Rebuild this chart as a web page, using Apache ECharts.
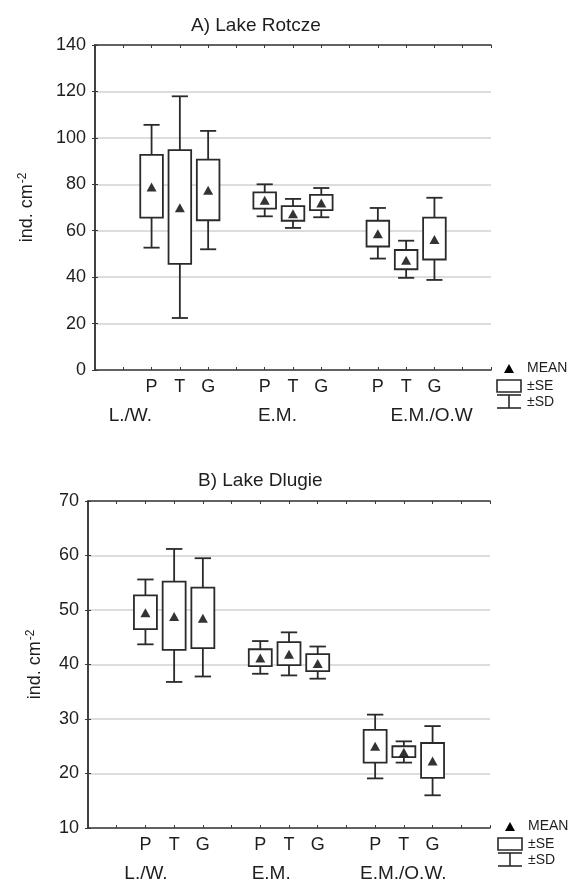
<!DOCTYPE html>
<html>
<head>
    <meta charset="utf-8">
    <title>Lake Rotcze / Lake Dlugie</title>
</head>
<body style="margin:0;background:#fff;">

    <div id="main" style="width: 582px; height: 884px;"></div>
    <script src="https://cdn.jsdelivr.net/npm/echarts@6/dist/echarts.min.js"></script>
    <script type="text/javascript">
        // positions of the boxes on the 0..14 x scale and their labels
        var xPos = [2, 3, 4, 6, 7, 8, 10, 11, 12];
        var tickLabels = ['P', 'T', 'G', 'P', 'T', 'G', 'P', 'T', 'G'];

        // A) Lake Rotcze
        var groupsA = ['L./W.', 'E.M.', 'E.M./O.W'];
        var groupPosA = [1.25, 6.45, 11.9];
        var meanA   = [78.8, 69.9, 77.4, 73.1, 67.3, 71.9, 58.7, 47.3, 56.2];
        var seLowA  = [65.6, 45.7, 64.5, 69.5, 64.3, 68.9, 53.2, 43.4, 47.6];
        var seHighA = [92.7, 94.7, 90.6, 76.5, 70.6, 75.4, 64.3, 51.7, 65.6];
        var sdLowA  = [52.7, 22.4, 52.0, 66.2, 61.2, 65.8, 48.0, 39.7, 38.8];
        var sdHighA = [105.6, 117.9, 103.0, 80.0, 73.7, 78.4, 69.8, 55.7, 74.2];

        // B) Lake Dlugie
        var groupsB = ['L./W.', 'E.M.', 'E.M./O.W.'];
        var groupPosB = [2.02, 6.38, 10.98];
        var meanB   = [49.5, 48.8, 48.5, 41.2, 41.9, 40.2, 25.0, 23.9, 22.3];
        var seLowB  = [46.5, 42.7, 43.0, 39.7, 39.9, 38.8, 22.0, 23.0, 19.2];
        var seHighB = [52.7, 55.2, 54.1, 42.8, 44.1, 41.9, 28.0, 25.0, 25.6];
        var sdLowB  = [43.7, 36.8, 37.8, 38.3, 38.0, 37.4, 19.1, 22.0, 16.0];
        var sdHighB = [55.6, 61.2, 59.5, 44.3, 45.9, 43.3, 30.8, 25.9, 28.7];

        var chartDom = document.getElementById('main');
        var myChart = echarts.init(chartDom);
        var option;

        var FONT = 'Liberation Sans, Arial, sans-serif';
        var INK = '#2a2a2a';

        function labelAt(values, labels) {
            return function (v) {
                for (var i = 0; i < values.length; i++) {
                    if (Math.abs(values[i] - v) < 1e-6) return labels[i];
                }
                return '';
            };
        }

        function boxData(sdLow, seLow, mean, seHigh, sdHigh) {
            return xPos.map(function (x, i) {
                return [x, sdLow[i], seLow[i], mean[i], seHigh[i], sdHigh[i]];
            });
        }

        function renderBox(params, api) {
            var x = api.value(0);
            var lo = api.coord([x, api.value(1)]);
            var seLo = api.coord([x, api.value(2)]);
            var seHi = api.coord([x, api.value(4)]);
            var hi = api.coord([x, api.value(5)]);
            var unit = api.size([1, 0])[0];
            var bw = unit * 0.8;
            var cw = unit * 0.57;
            var st = { stroke: INK, lineWidth: 1.8 };
            return {
                type: 'group',
                children: [
                    { type: 'line', shape: { x1: lo[0], y1: lo[1], x2: hi[0], y2: hi[1] }, style: st },
                    { type: 'line', shape: { x1: lo[0] - cw / 2, y1: lo[1], x2: lo[0] + cw / 2, y2: lo[1] }, style: st },
                    { type: 'line', shape: { x1: hi[0] - cw / 2, y1: hi[1], x2: hi[0] + cw / 2, y2: hi[1] }, style: st },
                    {
                        type: 'rect',
                        shape: { x: seHi[0] - bw / 2, y: seHi[1], width: bw, height: seLo[1] - seHi[1] },
                        style: { fill: '#fff', stroke: INK, lineWidth: 1.8 }
                    }
                ]
            };
        }

        function xAxes(gi, groups, groupPos) {
            var base = {
                gridIndex: gi, type: 'value', min: 0, max: 14, interval: 1,
                axisLine: { onZero: false, lineStyle: { color: '#3a3a3a', width: 1.6 } },
                axisTick: { inside: true, length: 3, lineStyle: { color: '#3a3a3a' } },
                splitLine: { show: false }
            };
            return [
                Object.assign({}, base, {
                    position: 'bottom',
                    axisLabel: {
                        customValues: xPos, formatter: labelAt(xPos, tickLabels),
                        fontFamily: FONT, fontSize: 18, color: '#1e1e1e', margin: 8
                    }
                }),
                Object.assign({}, base, { position: 'top', axisLabel: { show: false } }),
                {
                    gridIndex: gi, type: 'value', min: 0, max: 14, position: 'bottom', offset: 28,
                    axisLine: { show: false }, axisTick: { show: false }, splitLine: { show: false },
                    axisLabel: {
                        customValues: groupPos, formatter: labelAt(groupPos, groups),
                        fontFamily: FONT, fontSize: 19, color: '#1e1e1e', margin: 8
                    }
                }
            ];
        }

        function yAxes(gi, min, max, step, gap) {
            return [
                {
                    gridIndex: gi, type: 'value', min: min, max: max, interval: step, position: 'left',
                    name: 'ind. cm{sup|-2}', nameLocation: 'middle', nameGap: gap,
                    nameTextStyle: {
                        fontFamily: FONT, fontSize: 18, color: '#1e1e1e',
                        rich: { sup: { fontFamily: FONT, fontSize: 12, color: '#1e1e1e', verticalAlign: 'top', padding: [0, 0, 8, 1] } }
                    },
                    axisLine: { show: true, lineStyle: { color: '#3a3a3a', width: 1.6 } },
                    axisTick: { inside: true, length: 3, lineStyle: { color: '#3a3a3a' } },
                    axisLabel: { fontFamily: FONT, fontSize: 18, color: '#1e1e1e', margin: 9 },
                    splitLine: { show: true, lineStyle: { color: '#d2d2d2', width: 1.5 } }
                },
                {
                    gridIndex: gi, type: 'value', min: min, max: max, interval: step, position: 'right',
                    axisLine: { show: true, lineStyle: { color: '#3a3a3a', width: 1.6 } },
                    axisTick: { inside: true, length: 3, lineStyle: { color: '#3a3a3a' } },
                    axisLabel: { show: false }, splitLine: { show: false }
                }
            ];
        }

        function legendKey(x, y) {
            var st = { stroke: INK, lineWidth: 1.6, fill: '#fff' };
            var txt = { fontFamily: FONT, fontSize: 14, fill: '#1e1e1e', textVerticalAlign: 'middle' };
            return {
                type: 'group', x: x, y: y, silent: true,
                children: [
                    { type: 'polygon', shape: { points: [[12, -5], [7, 4], [17, 4]] }, style: { fill: '#000' } },
                    { type: 'text', x: 30, y: -1, style: Object.assign({ text: 'MEAN' }, txt) },
                    { type: 'rect', shape: { x: 0, y: 11, width: 24, height: 12 }, style: st },
                    { type: 'text', x: 30, y: 17, style: Object.assign({ text: '±SE' }, txt) },
                    { type: 'line', shape: { x1: 0, y1: 26, x2: 24, y2: 26 }, style: st },
                    { type: 'line', shape: { x1: 12, y1: 26, x2: 12, y2: 39 }, style: st },
                    { type: 'line', shape: { x1: 0, y1: 39, x2: 24, y2: 39 }, style: st },
                    { type: 'text', x: 30, y: 33, style: Object.assign({ text: '±SD' }, txt) }
                ]
            };
        }

        var titleStyle = { fontFamily: FONT, fontSize: 19, fontWeight: 'normal', color: '#1e1e1e' };

        option = {
            animation: false,
            backgroundColor: '#fff',
            title: [
                { text: 'A) Lake Rotcze', left: 186, top: 11, textStyle: titleStyle },
                { text: 'B) Lake Dlugie', left: 193, top: 466, textStyle: titleStyle }
            ],
            grid: [
                { left: 95, right: 91, top: 45, bottom: 514 },
                { left: 88, right: 92, top: 501, bottom: 56 }
            ],
            xAxis: xAxes(0, groupsA, groupPosA).concat(xAxes(1, groupsB, groupPosB)),
            yAxis: yAxes(0, 0, 140, 20, 58).concat(yAxes(1, 10, 70, 10, 43)),
            graphic: [legendKey(497, 369), legendKey(498, 827)],
            series: [
                {
                    type: 'custom', xAxisIndex: 0, yAxisIndex: 0, renderItem: renderBox,
                    encode: { x: 0, y: [1, 2, 3, 4, 5] },
                    data: boxData(sdLowA, seLowA, meanA, seHighA, sdHighA)
                },
                {
                    type: 'scatter', xAxisIndex: 0, yAxisIndex: 0, symbol: 'triangle', symbolSize: [10, 9],
                    itemStyle: { color: '#000' }, z: 5,
                    data: xPos.map(function (x, i) { return [x, meanA[i]]; })
                },
                {
                    type: 'custom', xAxisIndex: 3, yAxisIndex: 2, renderItem: renderBox,
                    encode: { x: 0, y: [1, 2, 3, 4, 5] },
                    data: boxData(sdLowB, seLowB, meanB, seHighB, sdHighB)
                },
                {
                    type: 'scatter', xAxisIndex: 3, yAxisIndex: 2, symbol: 'triangle', symbolSize: [10, 9],
                    itemStyle: { color: '#000' }, z: 5,
                    data: xPos.map(function (x, i) { return [x, meanB[i]]; })
                }
            ]
        };

        option && myChart.setOption(option);

    </script>
</body>
</html>
